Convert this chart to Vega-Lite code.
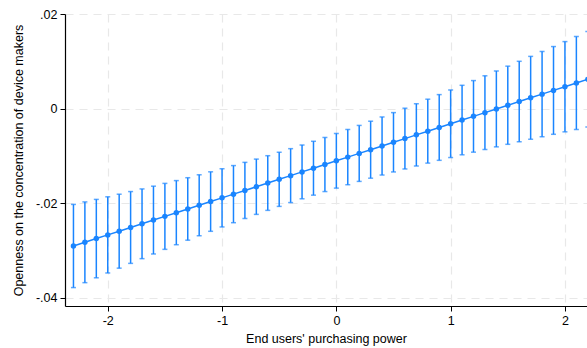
{
  "$schema": "https://vega.github.io/schema/vega-lite/v6.json",
  "width": 522,
  "height": 292,
  "autosize": {"type": "none"},
  "padding": {"left": 65, "top": 14, "right": 0, "bottom": 42},
  "background": "white",
  "config": {
    "view": {"stroke": null},
    "font": "Liberation Sans"
  },
  "data": {
    "values": [
      {"x": -2.3, "y": -0.02900, "lo": -0.03780, "hi": -0.02020},
      {"x": -2.2, "y": -0.02822, "lo": -0.03676, "hi": -0.01967},
      {"x": -2.1, "y": -0.02743, "lo": -0.03573, "hi": -0.01914},
      {"x": -2.0, "y": -0.02665, "lo": -0.03471, "hi": -0.01859},
      {"x": -1.9, "y": -0.02587, "lo": -0.03369, "hi": -0.01804},
      {"x": -1.8, "y": -0.02508, "lo": -0.03268, "hi": -0.01748},
      {"x": -1.7, "y": -0.02430, "lo": -0.03168, "hi": -0.01692},
      {"x": -1.6, "y": -0.02351, "lo": -0.03069, "hi": -0.01634},
      {"x": -1.5, "y": -0.02273, "lo": -0.02971, "hi": -0.01575},
      {"x": -1.4, "y": -0.02195, "lo": -0.02873, "hi": -0.01516},
      {"x": -1.3, "y": -0.02116, "lo": -0.02777, "hi": -0.01455},
      {"x": -1.2, "y": -0.02038, "lo": -0.02683, "hi": -0.01393},
      {"x": -1.1, "y": -0.01959, "lo": -0.02589, "hi": -0.01330},
      {"x": -1.0, "y": -0.01881, "lo": -0.02497, "hi": -0.01265},
      {"x": -0.9, "y": -0.01803, "lo": -0.02407, "hi": -0.01198},
      {"x": -0.8, "y": -0.01724, "lo": -0.02318, "hi": -0.01130},
      {"x": -0.7, "y": -0.01646, "lo": -0.02231, "hi": -0.01061},
      {"x": -0.6, "y": -0.01567, "lo": -0.02146, "hi": -0.00989},
      {"x": -0.5, "y": -0.01489, "lo": -0.02062, "hi": -0.00916},
      {"x": -0.4, "y": -0.01411, "lo": -0.01981, "hi": -0.00840},
      {"x": -0.3, "y": -0.01332, "lo": -0.01901, "hi": -0.00763},
      {"x": -0.2, "y": -0.01254, "lo": -0.01824, "hi": -0.00684},
      {"x": -0.1, "y": -0.01175, "lo": -0.01748, "hi": -0.00603},
      {"x": 0.0, "y": -0.01097, "lo": -0.01675, "hi": -0.00519},
      {"x": 0.1, "y": -0.01019, "lo": -0.01603, "hi": -0.00434},
      {"x": 0.2, "y": -0.00940, "lo": -0.01533, "hi": -0.00348},
      {"x": 0.3, "y": -0.00862, "lo": -0.01465, "hi": -0.00259},
      {"x": 0.4, "y": -0.00783, "lo": -0.01398, "hi": -0.00169},
      {"x": 0.5, "y": -0.00705, "lo": -0.01333, "hi": -0.00077},
      {"x": 0.6, "y": -0.00627, "lo": -0.01270, "hi": 0.00016},
      {"x": 0.7, "y": -0.00548, "lo": -0.01207, "hi": 0.00111},
      {"x": 0.8, "y": -0.00470, "lo": -0.01146, "hi": 0.00207},
      {"x": 0.9, "y": -0.00391, "lo": -0.01087, "hi": 0.00304},
      {"x": 1.0, "y": -0.00313, "lo": -0.01028, "hi": 0.00402},
      {"x": 1.1, "y": -0.00235, "lo": -0.00970, "hi": 0.00501},
      {"x": 1.2, "y": -0.00156, "lo": -0.00914, "hi": 0.00601},
      {"x": 1.3, "y": -0.00078, "lo": -0.00858, "hi": 0.00702},
      {"x": 1.4, "y": 0.00001, "lo": -0.00802, "hi": 0.00804},
      {"x": 1.5, "y": 0.00079, "lo": -0.00748, "hi": 0.00906},
      {"x": 1.6, "y": 0.00157, "lo": -0.00694, "hi": 0.01009},
      {"x": 1.7, "y": 0.00236, "lo": -0.00641, "hi": 0.01113},
      {"x": 1.8, "y": 0.00314, "lo": -0.00588, "hi": 0.01217},
      {"x": 1.9, "y": 0.00393, "lo": -0.00536, "hi": 0.01321},
      {"x": 2.0, "y": 0.00471, "lo": -0.00484, "hi": 0.01426},
      {"x": 2.1, "y": 0.00549, "lo": -0.00433, "hi": 0.01532},
      {"x": 2.2, "y": 0.00628, "lo": -0.00382, "hi": 0.01638}
    ]
  },
  "encoding": {
    "x": {
      "field": "x",
      "type": "quantitative",
      "scale": {"domain": [-2.374, 2.193], "nice": false, "zero": false},
      "axis": {
        "values": [-2, -1, 0, 1, 2],
        "labelExpr": "datum.value < 0 ? '-' + format(-datum.value, 'd') : format(datum.value, 'd')",
        "title": "End users' purchasing power",
        "titleFont": "Liberation Sans",
        "titleFontSize": 12.5,
        "titleFontWeight": "normal",
        "titleColor": "#000000",
        "titlePadding": 6,
        "labelFont": "Liberation Sans",
        "labelFontSize": 12.5,
        "labelColor": "#000000",
        "labelPadding": 3,
        "domainColor": "#000000",
        "domainWidth": 1.2,
        "tickColor": "#000000",
        "tickSize": 5,
        "grid": true,
        "gridColor": "#e8e8e8",
        "gridDash": [8, 6],
        "gridWidth": 1.2
      }
    },
    "y": {
      "field": "y",
      "type": "quantitative",
      "scale": {"domain": [-0.0417, 0.0201], "nice": false, "zero": false},
      "axis": {
        "values": [-0.04, -0.02, 0, 0.02],
        "labelExpr": "datum.value == 0 ? '0' : (datum.value < 0 ? '-' : '') + replace(format(abs(datum.value), '.2f'), '0.', '.')",
        "title": "Openness on the concentration of device makers",
        "titleFont": "Liberation Sans",
        "titleFontSize": 12.5,
        "titleFontWeight": "normal",
        "titleColor": "#000000",
        "titlePadding": 10,
        "labelFont": "Liberation Sans",
        "labelFontSize": 12.5,
        "labelColor": "#000000",
        "labelPadding": 3,
        "domainColor": "#000000",
        "domainWidth": 1.2,
        "tickColor": "#000000",
        "tickSize": 5,
        "grid": true,
        "gridColor": "#e8e8e8",
        "gridDash": [8, 6],
        "gridWidth": 1.2
      }
    }
  },
  "layer": [
    {
      "mark": {"type": "rule", "color": "#1a85ff", "strokeWidth": 1.5, "clip": false},
      "encoding": {"y": {"field": "lo", "type": "quantitative"}, "y2": {"field": "hi"}}
    },
    {
      "mark": {"type": "tick", "color": "#1a85ff", "orient": "horizontal", "size": 5, "thickness": 1.5},
      "encoding": {"y": {"field": "lo", "type": "quantitative"}}
    },
    {
      "mark": {"type": "tick", "color": "#1a85ff", "orient": "horizontal", "size": 5, "thickness": 1.5},
      "encoding": {"y": {"field": "hi", "type": "quantitative"}}
    },
    {
      "mark": {"type": "line", "color": "#1a85ff", "strokeWidth": 1.5},
      "encoding": {}
    },
    {
      "mark": {"type": "circle", "color": "#1a85ff", "size": 30, "opacity": 1},
      "encoding": {}
    }
  ]
}
